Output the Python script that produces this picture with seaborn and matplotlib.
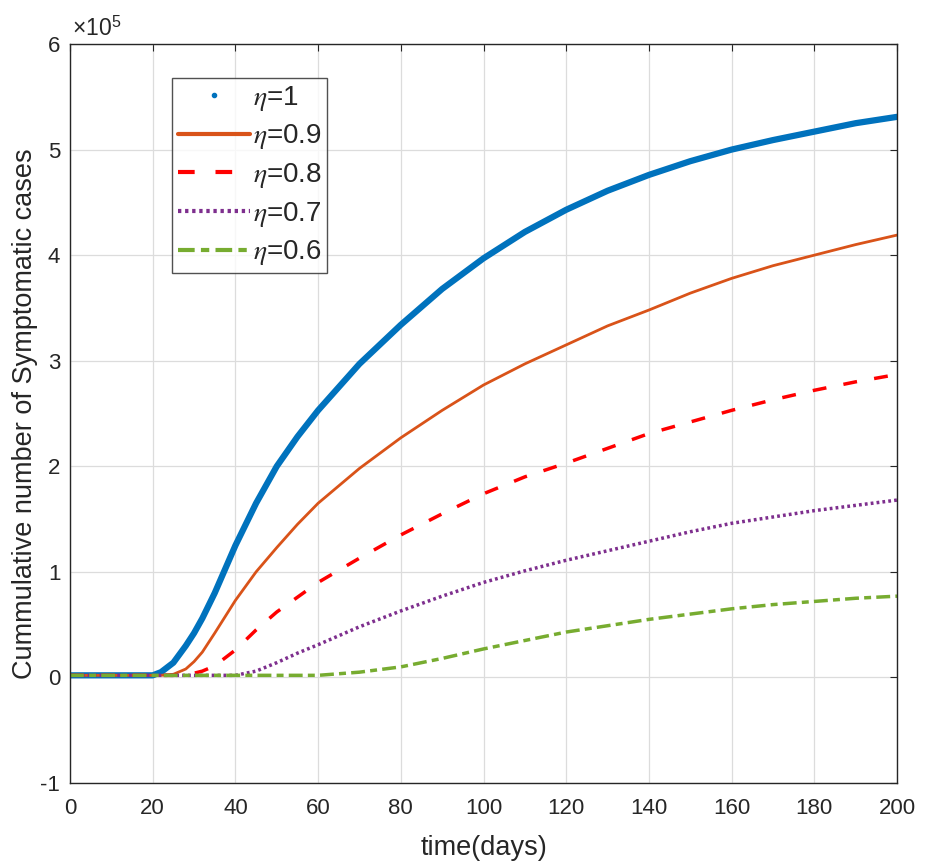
import numpy as np
import pandas as pd
import seaborn as sns
import matplotlib
matplotlib.use('Agg')
import matplotlib.pyplot as plt
from matplotlib.lines import Line2D
from matplotlib.ticker import FuncFormatter

days = [0, 10, 20, 22, 25, 28, 30, 32, 35, 40, 45, 50, 55, 60, 70, 80, 90, 100,
        110, 120, 130, 140, 150, 160, 170, 180, 190, 200]

# values, in units of 1e5
eta_1 = [0.02, 0.02, 0.02, 0.05, 0.14, 0.30, 0.42, 0.56, 0.80, 1.25, 1.65, 2.00,
         2.28, 2.53, 2.97, 3.34, 3.68, 3.97, 4.22, 4.43, 4.61, 4.76, 4.89, 5.00,
         5.09, 5.17, 5.25, 5.31]
eta_09 = [0.02, 0.02, 0.02, 0.02, 0.03, 0.08, 0.15, 0.24, 0.42, 0.73, 1.00, 1.23,
          1.45, 1.65, 1.98, 2.27, 2.53, 2.77, 2.97, 3.15, 3.33, 3.48, 3.64, 3.78,
          3.90, 4.00, 4.10, 4.19]
eta_08 = [0.02, 0.02, 0.02, 0.02, 0.02, 0.03, 0.04, 0.06, 0.11, 0.26, 0.45, 0.62,
          0.76, 0.90, 1.13, 1.35, 1.55, 1.74, 1.90, 2.03, 2.17, 2.31, 2.42, 2.53,
          2.63, 2.72, 2.80, 2.87]
eta_07 = [0.02, 0.02, 0.02, 0.02, 0.02, 0.02, 0.02, 0.02, 0.02, 0.02, 0.06, 0.14,
          0.23, 0.31, 0.48, 0.63, 0.77, 0.90, 1.01, 1.11, 1.20, 1.29, 1.38, 1.46,
          1.52, 1.58, 1.63, 1.68]
eta_06 = [0.02, 0.02, 0.02, 0.02, 0.02, 0.02, 0.02, 0.02, 0.02, 0.02, 0.02, 0.02,
          0.02, 0.02, 0.05, 0.10, 0.18, 0.27, 0.35, 0.43, 0.49, 0.55, 0.60, 0.65,
          0.69, 0.72, 0.75, 0.77]

labels = ['$\\eta$=1', '$\\eta$=0.9', '$\\eta$=0.8', '$\\eta$=0.7', '$\\eta$=0.6']
colors = ['#0072BD', '#D95319', '#FF0000', '#7E2F8E', '#77AC30']
styles = ['-', '-', (0, (4, 5)), (0, (0.8, 0.9)), (0, (4, 1.5, 2, 1.5))]
widths = [4.5, 2.0, 2.5, 2.5, 2.5]

sns.set_style('white')
plt.rcParams['font.family'] = ['Liberation Sans', 'DejaVu Sans']
plt.rcParams['mathtext.fontset'] = 'custom'
plt.rcParams['mathtext.rm'] = 'Liberation Sans'
plt.rcParams['mathtext.it'] = 'STIXGeneral:italic'
plt.rcParams['mathtext.bf'] = 'Liberation Sans:bold'
plt.rcParams['axes.unicode_minus'] = False

fig = plt.figure(figsize=(9.26, 8.68), dpi=100)
ax = fig.add_axes([0.0756, 0.0979, 0.8931, 0.8514])

series = [eta_1, eta_09, eta_08, eta_07, eta_06]
for vals, lab, c, ls, lw in zip(series, labels, colors, styles, widths):
    df = pd.DataFrame({'t': days, 'y': np.array(vals) * 1e5})
    sns.lineplot(data=df, x='t', y='y', ax=ax, color=c, linestyle=ls, linewidth=lw,
                 legend=False)

ax.set_xlim(0, 200)
ax.set_ylim(-1e5, 6e5)
ax.set_xticks(range(0, 201, 20))
ax.set_yticks(np.arange(-1, 7) * 1e5)
ax.yaxis.set_major_formatter(FuncFormatter(lambda v, p: '%g' % (v / 1e5)))
ax.text(0.003, 1.004, '×10$^{\\mathrm{5}}$', transform=ax.transAxes, fontsize=16.5,
        color='#262626', ha='left', va='bottom')
ax.grid(True, color='#dcdcdc', linewidth=0.9)
ax.tick_params(direction='in', labelsize=16, top=True, right=True, length=5,
               color='#262626', labelcolor='#262626')
ax.tick_params(axis='x', pad=11)
ax.tick_params(axis='y', pad=7)
for s in ax.spines.values():
    s.set_color('#262626')
    s.set_linewidth(1.0)
ax.set_xlabel('time(days)', fontsize=19.5, color='#262626', labelpad=11)
ax.set_ylabel('Cummulative number of Symptomatic cases', fontsize=19.5,
              color='#262626', labelpad=2)

handles = [Line2D([], [], color=colors[0], marker='.', linestyle='none', markersize=6)]
for c, ls in zip(colors[1:], styles[1:]):
    handles.append(Line2D([], [], color=c, linestyle=ls, linewidth=3))
leg = ax.legend(handles, labels, loc='upper left', bbox_to_anchor=(0.1233, 0.954),
                fontsize=20, frameon=True, fancybox=False, handlelength=2.6,
                handletextpad=0.1, borderpad=0.2, labelspacing=0.35,
                borderaxespad=0)
leg.get_frame().set_edgecolor('#262626')
leg.get_frame().set_linewidth(1.0)

fig.savefig('out.png', dpi=100)
